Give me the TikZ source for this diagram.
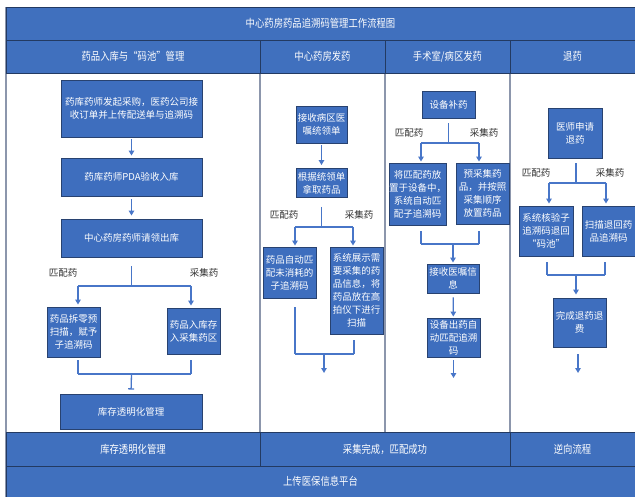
\documentclass[tikz,border=0pt]{standalone}
\usepackage{fontspec}
\setmainfont{Noto Sans CJK SC}
\newfontfamily\bandfont[FakeStretch=0.85]{Noto Sans CJK SC}
\usetikzlibrary{arrows.meta}
\definecolor{bandblue}{RGB}{64,112,190}
\definecolor{boxblue}{RGB}{62,110,190}
\definecolor{boxedge}{RGB}{40,66,112}
\definecolor{lineblue}{RGB}{72,118,200}
\definecolor{framegray}{RGB}{140,150,172}
\definecolor{bandedge}{RGB}{35,58,98}
\definecolor{labelgray}{RGB}{50,50,50}
\tikzset{
  band/.style={draw=bandedge, fill=bandblue, text=white, inner sep=0pt, line width=0.8pt,
    font=\bandfont\fontsize{11}{13}\selectfont},
  fbox/.style={draw=boxedge, fill=boxblue, text=white, inner sep=0pt, line width=0.9pt,
    align=center, font=\fontsize{9.5}{13}\selectfont},
  lbl/.style={text=labelgray, inner sep=0pt, font=\fontsize{9.5}{11}\selectfont},
  ln/.style={draw=lineblue, line width=1.3pt},
  arr/.style={ln, -{Triangle[width=5.5pt,length=5pt]}},
  barend/.style={ln, -{Bar[width=6pt,line width=1.3pt]}},
  frame/.style={draw=framegray, line width=1.4pt}
}
\begin{document}
\begin{tikzpicture}[x=1pt,y=-1pt]
\useasboundingbox (0,0) rectangle (635,497);
\fill[white] (0,0) rectangle (635,497);
% body frame
\draw[frame] (6,7) -- (6,497);
\draw[frame] (260,73) -- (260,432);
\draw[frame] (385,73) -- (385,432);
\draw[frame] (510,73) -- (510,432);
% bands
\node[band, minimum width=629pt, minimum height=33pt] (title) at (320.5,23.5) {中心药房药品追溯码管理工作流程图};
\node[band, minimum width=254pt, minimum height=33pt] (h1) at (133,56.5) {药品入库与“码池”管理};
\node[band, minimum width=125pt, minimum height=33pt] (h2) at (322.5,56.5) {中心药房发药};
\node[band, minimum width=125pt, minimum height=33pt] (h3) at (447.5,56.5) {手术室/病区发药};
\node[band, minimum width=125pt, minimum height=33pt] (h4) at (572.5,56.5) {退药};
\node[band, minimum width=254pt, minimum height=34pt] (f1) at (133,449) {库存透明化管理};
\node[band, minimum width=250pt, minimum height=34pt] (f2) at (385,449) {采集完成，匹配成功};
\node[band, minimum width=125pt, minimum height=34pt] (f3) at (572.5,449) {逆向流程};
\node[band, minimum width=629pt, minimum height=31pt] (f4) at (320.5,481.5) {上传医保信息平台};

% ---------- column 1
\node[fbox, minimum width=141pt, minimum height=57pt] (b1) at (131.5,108.5) {药库药师发起采购，医药公司接\\收订单并上传配送单与追溯码};
\node[fbox, minimum width=141pt, minimum height=38pt] (b2) at (131.5,177) {药库药师PDA验收入库};
\node[fbox, minimum width=141pt, minimum height=38pt] (b3) at (131.5,238) {中心药房药师请领出库};
\node[fbox, minimum width=53pt, minimum height=50pt] (b4) at (73.5,332) {药品拆零预\\扫描，赋予\\子追溯码};
\node[fbox, minimum width=53pt, minimum height=46pt] (b5) at (193.5,331) {药品入库存\\入采集药区};
\node[fbox, minimum width=142pt, minimum height=35pt] (b6) at (131,411.5) {库存透明化管理};
\node[lbl] (l1a) at (63,273) {匹配药};
\node[lbl] (l1b) at (204,273) {采集药};
\draw[arr, shorten <=2pt, shorten >=2pt] (b1) -- (b2);
\draw[arr, shorten <=3pt, shorten >=3pt] (b2) -- (b3);
\coordinate (s1) at (131.5,286);
\coordinate (s1l) at (78,286);
\coordinate (s1r) at (191,286);
\draw[ln, shorten <=9pt] (b3.south) -- (s1);
\draw[ln] (s1l) -- (s1r);
\draw[arr, shorten >=2pt] (s1l) -- (s1l |- b4.north);
\draw[arr, shorten >=2pt] (s1r) -- (s1r |- b5.north);
\coordinate (m1) at (131.5,374);
\coordinate (m1l) at (78,374);
\coordinate (m1r) at (191,374);
\draw[ln, shorten <=3pt] (b4.south -| m1l) -- (m1l);
\draw[ln, shorten <=6pt] (b5.south -| m1r) -- (m1r);
\draw[ln] (m1l) -- (m1r);
\draw[barend, shorten >=4pt] (m1) -- (b6.north);

% ---------- column 2
\node[fbox, minimum width=51pt, minimum height=37pt] (c1) at (321.5,124.5) {接收病区医\\嘱统领单};
\node[fbox, minimum width=51pt, minimum height=29pt] (c2) at (321.5,183) {根据统领单\\拿取药品};
\node[fbox, minimum width=53pt, minimum height=51pt] (c3) at (289.5,272.5) {药品自动匹\\配未消耗的\\子追溯码};
\node[fbox, minimum width=53pt, minimum height=87pt] (c4) at (356.5,290.5) {系统展示需\\要采集的药\\品信息，将\\药品放在高\\拍仪下进行\\扫描};
\node[lbl] (l2a) at (284,215) {匹配药};
\node[lbl] (l2b) at (359,215) {采集药};
\draw[arr, shorten <=2pt, shorten >=3pt] (c1) -- (c2);
\coordinate (s2) at (321.5,227);
\coordinate (s2l) at (295,227);
\coordinate (s2r) at (353,227);
\draw[ln, shorten <=9pt] (c2.south) -- (s2);
\draw[ln] (s2l) -- (s2r);
\draw[arr, shorten >=1pt] (s2l) -- (s2l |- c3.north);
\draw[arr, shorten >=1pt] (s2r) -- (s2r |- c4.north);
\coordinate (m2) at (324,354);
\coordinate (m2l) at (295,354);
\coordinate (m2r) at (354,354);
\coordinate (e2) at (324,373);
\draw[ln, shorten <=9pt] (c3.south -| m2l) -- (m2l);
\draw[ln, shorten <=6pt] (c4.south -| m2r) -- (m2r);
\draw[ln] (m2l) -- (m2r);
\draw[arr] (m2) -- (e2);

% ---------- column 3
\node[fbox, minimum width=53pt, minimum height=27pt] (d1) at (448.5,104.5) {设备补药};
\node[fbox, minimum width=57pt, minimum height=62pt] (d2) at (417.5,194) {将匹配药放\\置于设备中，\\系统自动匹\\配子追溯码};
\node[fbox, minimum width=53pt, minimum height=61pt] (d3) at (482.5,193.5) {预采集药\\品，并按照\\采集顺序\\放置药品};
\node[fbox, minimum width=52pt, minimum height=29pt] (d4) at (453,278.5) {接收医嘱信\\息};
\node[fbox, minimum width=53pt, minimum height=39pt] (d5) at (453.5,337.5) {设备出药自\\动匹配追溯\\码};
\node[lbl] (l3a) at (409,133) {匹配药};
\node[lbl] (l3b) at (484,133) {采集药};
\coordinate (s3) at (448.5,143);
\coordinate (s3l) at (421,143);
\coordinate (s3r) at (479,143);
\draw[ln, shorten <=5pt] (d1.south) -- (s3);
\draw[ln] (s3l) -- (s3r);
\draw[arr, shorten >=1pt] (s3l) -- (s3l |- d2.north);
\draw[arr, shorten >=1pt] (s3r) -- (s3r |- d3.north);
\coordinate (m3) at (453,244);
\coordinate (m3l) at (421,244);
\coordinate (m3r) at (479,244);
\draw[ln, shorten <=6pt] (d2.south -| m3l) -- (m3l);
\draw[ln, shorten <=7pt] (d3.south -| m3r) -- (m3r);
\draw[ln] (m3l) -- (m3r);
\draw[arr, shorten >=1pt] (m3) -- (d4.north);
\draw[arr, shorten <=4pt, shorten >=1pt] (d4) -- (d5);
\coordinate (e3) at (453.5,378);
\draw[arr, shorten <=3pt] (d5.south) -- (e3);

% ---------- column 4
\node[fbox, minimum width=54pt, minimum height=50pt] (g1) at (575,133) {医师申请\\退药};
\node[fbox, minimum width=54pt, minimum height=50pt] (g2) at (546,231) {系统核验子\\追溯码退回\\“码池”};
\node[fbox, minimum width=53pt, minimum height=50pt] (g3) at (608.5,231) {扫描退回药\\品追溯码};
\node[fbox, minimum width=53pt, minimum height=49pt] (g4) at (579.5,322.5) {完成退药退\\费};
\node[lbl] (l4a) at (536,173) {匹配药};
\node[lbl] (l4b) at (610,173) {采集药};
\coordinate (s4) at (576,183);
\coordinate (s4l) at (549,183);
\coordinate (s4r) at (606,183);
\draw[ln, shorten <=5pt] (g1.south -| s4) -- (s4);
\draw[ln] (s4l) -- (s4r);
\draw[arr, shorten >=2pt] (s4l) -- (s4l |- g2.north);
\draw[arr, shorten >=2pt] (s4r) -- (s4r |- g3.north);
\coordinate (m4) at (576,275);
\coordinate (m4l) at (547,275);
\coordinate (m4r) at (605,275);
\draw[ln, shorten <=6pt] (g2.south -| m4l) -- (m4l);
\draw[ln, shorten <=6pt] (g3.south -| m4r) -- (m4r);
\draw[ln] (m4l) -- (m4r);
\draw[arr, shorten >=3pt] (m4) -- (m4 |- g4.north);
\coordinate (e4) at (578,373);
\draw[arr, shorten <=7pt] (g4.south -| e4) -- (e4);
\end{tikzpicture}
\end{document}
